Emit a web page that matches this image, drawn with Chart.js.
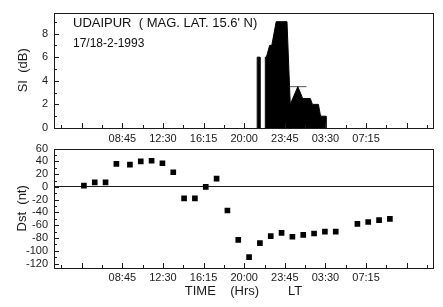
<!DOCTYPE html>
<html>
<head>
<meta charset="utf-8">
<script src="https://cdn.jsdelivr.net/npm/chart.js@4.4.0/dist/chart.umd.min.js"></script>
<style>
body{margin:0;background:#fff;width:443px;height:307px;overflow:hidden;position:relative;font-family:"Liberation Sans",Arial,sans-serif;}
canvas{position:absolute;left:0;}
#top{top:0;}
#bot{top:136px;}
.note{position:absolute;left:73px;color:#111;white-space:pre;line-height:1;}
</style>
</head>
<body>
<canvas id="top" width="443" height="150"></canvas>
<canvas id="bot" width="443" height="171"></canvas>
<div class="note" style="top:16px;font-size:13px">UDAIPUR  ( MAG. LAT. 15.6' N)</div>
<div class="note" style="top:37px;font-size:12px">17/18-2-1993</div>
<script>
// time = hours since 00:00 LT on 17-2-1993
var siTime  = [21.95, 21.95, 22.05, 22.35, 22.55, 22.95, 23.95, 24.25, 24.95, 25.4, 26.1, 26.3, 26.85, 27.05, 27.55, 27.55];
var siValue = [0, 6, 6, 7, 7, 9, 9, 2, 3.5, 2.5, 2.5, 2, 2, 1, 1, 0];
var spikeTime  = [21.2, 21.2, 21.45, 21.45];
var spikeValue = [0, 6, 6, 0];
var levelTime  = [24.2, 25.75];
var levelValue = [3.5, 3.5];

var dstTime  = [5.2, 6.2, 7.2, 8.2, 9.45, 10.45, 11.45, 12.45, 13.45, 14.45, 15.45, 16.45, 17.45, 18.45,
                19.45, 20.45, 21.45, 22.45, 23.45, 24.45, 25.45, 26.45, 27.45, 28.45, 30.45, 31.45, 32.45, 33.45];
var dstValue = [2, 7, 7, 36, 35, 40, 41, 37, 23, -18, -18, 0, 13, -37,
                -83, -110, -88, -77, -72, -78, -75, -73, -70, -70, -58, -55, -52, -50];

var timeTicks  = [3.125, 5, 6.875, 8.75, 10.625, 12.5, 14.375, 16.25, 18.125, 20,
                  21.875, 23.75, 25.625, 27.5, 29.375, 31.25, 33.125, 35, 36.875];
var timeLabels = ["", "", "", "08:45", "", "12:30", "", "16:15", "", "20:00",
                  "", "23:45", "", "03:30", "", "07:15", "", "", ""];
var majorTimes = [5, 8.75, 12.5, 16.25, 20, 23.75, 27.5, 31.25, 35];

var siTicks  = [0, 1, 2, 3, 4, 5, 6, 7, 8, 9];
var siLabels = ["0", "", "2", "", "4", "", "6", "", "8", ""];
var dstTicks  = [-120, -110, -100, -90, -80, -70, -60, -50, -40, -30, -20, -10, 0, 10, 20, 30, 40, 50, 60];
var dstLabels = ["-120", "", "-100", "", "-80", "", "-60", "", "-40", "", "-20", "", "0", "", "20", "", "40", "", "60"];

function pts(xs, ys) {
  return xs.map(function(x, i) { return {x: x, y: ys[i]}; });
}

var ink = '#1a1a1a';
var tickFont = {family: '"Liberation Sans", Arial, sans-serif', size: 11};
var titleFont = {family: '"Liberation Sans", Arial, sans-serif', size: 13};

// frame and inward ticks
var frameTicks = {
  id: 'frameTicks',
  afterDraw: function(chart) {
    var ctx = chart.ctx, a = chart.chartArea;
    var xs = chart.scales.x, ys = chart.scales.y;
    var yLabels = chart.options.yLabels;
    ctx.save();
    ctx.strokeStyle = ink;
    ctx.lineWidth = 1;
    ctx.strokeRect(Math.round(a.left) + 0.5, Math.round(a.top) + 0.5, Math.round(a.right - a.left), Math.round(a.bottom - a.top));
    ctx.beginPath();
    xs.ticks.forEach(function(t) {
      var px = Math.round(xs.getPixelForValue(t.value)) + 0.5;
      var len = majorTimes.indexOf(t.value) >= 0 ? 5 : 3;
      ctx.moveTo(px, a.bottom);
      ctx.lineTo(px, a.bottom - len);
    });
    ys.ticks.forEach(function(t, i) {
      var py = Math.round(ys.getPixelForValue(t.value)) + 0.5;
      var len = yLabels[i] !== "" ? 5 : 3;
      ctx.moveTo(a.left, py);
      ctx.lineTo(a.left + len, py);
    });
    ctx.stroke();
    ctx.restore();
  }
};

function xScale(height, pad, showTitle) {
  return {
    type: 'linear',
    min: 2.44, max: 37.43,
    grid: {display: false, drawTicks: false},
    border: {display: false},
    afterBuildTicks: function(s) { s.ticks = timeTicks.map(function(v) { return {value: v}; }); },
    afterFit: function(s) { s.height = height; },
    ticks: {
      autoSkip: false, maxRotation: 0, padding: pad, color: ink, font: tickFont,
      callback: function(v, i) { return timeLabels[i]; }
    },
    title: {display: showTitle, text: 'TIME    (Hrs)        LT', color: ink, font: titleFont, padding: {top: 0, bottom: 8}}
  };
}

function yScale(min, max, tickVals, labels, title, titlePad, zeroLine) {
  return {
    min: min, max: max,
    grid: {
      display: zeroLine, drawTicks: false,
      color: function(c) { return c.tick && c.tick.value === 0 ? ink : 'rgba(0,0,0,0)'; }
    },
    border: {display: false},
    afterBuildTicks: function(s) { s.ticks = tickVals.map(function(v) { return {value: v}; }); },
    afterFit: function(s) { s.width = 54; },
    ticks: {
      autoSkip: false, padding: 6, color: ink, font: tickFont,
      callback: function(v, i) { return labels[i]; }
    },
    title: {display: true, text: title, color: ink, font: titleFont, padding: {top: titlePad, bottom: 0}}
  };
}

new Chart('top', {
  type: 'scatter',
  data: {
    datasets: [{
      data: pts(siTime, siValue),
      showLine: true, fill: 'origin',
      backgroundColor: '#000', borderColor: '#000', borderWidth: 1,
      pointRadius: 0, tension: 0
    }, {
      data: pts(spikeTime, spikeValue),
      showLine: true, fill: 'origin',
      backgroundColor: '#000', borderColor: '#000', borderWidth: 1,
      pointRadius: 0
    }, {
      data: pts(levelTime, levelValue),
      showLine: true, fill: false,
      borderColor: '#555', borderWidth: 1,
      pointRadius: 0
    }]
  },
  options: {
    responsive: false, animation: false,
    yLabels: siLabels,
    layout: {padding: {top: 5, right: 10, left: 0, bottom: 0}},
    plugins: {legend: {display: false}, tooltip: {enabled: false}},
    scales: {
      x: xScale(22, 4, false),
      y: yScale(0, 9.77, siTicks, siLabels, 'SI  (dB)', 16, false)
    }
  },
  plugins: [frameTicks]
});

new Chart('bot', {
  type: 'scatter',
  data: {
    datasets: [{
      data: pts(dstTime, dstValue),
      pointStyle: 'rect', pointRadius: 4,
      backgroundColor: '#000', borderColor: '#000', borderWidth: 0
    }]
  },
  options: {
    responsive: false, animation: false,
    yLabels: dstLabels,
    layout: {padding: {top: 9, right: 10, left: 0, bottom: 0}},
    plugins: {legend: {display: false}, tooltip: {enabled: false}},
    scales: {
      x: xScale(39, 3, true),
      y: yScale(-127, 60, dstTicks, dstLabels, 'Dst  (nt)', 15, true)
    }
  },
  plugins: [frameTicks]
});
</script>
</body>
</html>
